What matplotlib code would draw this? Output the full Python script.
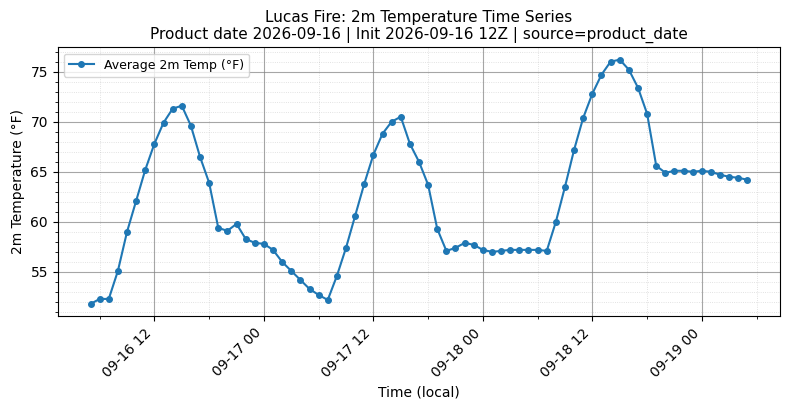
import numpy as np
import pandas as pd
import matplotlib
matplotlib.use("Agg")
import matplotlib.pyplot as plt
import matplotlib.dates as mdates
from matplotlib.ticker import MultipleLocator

# hourly data, 2026-09-16 05:00 -> 2026-09-19 05:00 (local)
start_time = "2026-09-16 05:00"
temps_f = [
    51.8, 52.3, 52.3, 55.1, 59.0, 62.1, 65.2, 67.8, 69.9, 71.3,
    71.6, 69.6, 66.5, 63.9, 59.4, 59.1, 59.8, 58.3, 57.9, 57.8,
    57.2, 56.0, 55.1, 54.2, 53.3, 52.7, 52.2, 54.6, 57.4, 60.6,
    63.8, 66.7, 68.8, 70.0, 70.5, 67.8, 66.0, 63.7, 59.3, 57.1,
    57.4, 57.9, 57.7, 57.2, 57.0, 57.1, 57.2, 57.2, 57.2, 57.2,
    57.1, 60.0, 63.5, 67.2, 70.4, 72.8, 74.7, 76.0, 76.2, 75.2,
    73.4, 70.8, 65.6, 64.9, 65.1, 65.1, 65.0, 65.1, 65.0, 64.7,
    64.5, 64.4, 64.2,
]
times = pd.date_range(start_time, periods=len(temps_f), freq="h")

fig, ax = plt.subplots(figsize=(7.89, 4.09), dpi=100)
fig.subplots_adjust(left=0.0731, right=0.989, top=0.884, bottom=0.227)

ax.plot(times, temps_f, marker="o", markersize=4, linewidth=1.5,
        color="#1f77b4", label="Average 2m Temp (°F)")

ax.set_title("Lucas Fire: 2m Temperature Time Series\n"
             "Product date 2026-09-16 | Init 2026-09-16 12Z | source=product_date",
             fontsize=11)
ax.set_xlabel("Time (local)")
ax.set_ylabel("2m Temperature (°F)")

ax.xaxis.set_major_locator(mdates.HourLocator(byhour=[0, 12]))
ax.xaxis.set_minor_locator(mdates.HourLocator(byhour=[6, 18]))
ax.xaxis.set_major_formatter(mdates.DateFormatter("%m-%d %H"))
ax.yaxis.set_minor_locator(MultipleLocator(1))
plt.setp(ax.get_xticklabels(), rotation=45, ha="right")

ax.grid(True, which="major", color="gray", alpha=0.7, linewidth=0.8)
ax.grid(True, which="minor", color="gray", alpha=0.3, linestyle=":", linewidth=0.6)

ax.legend(loc="upper left", fontsize=9)

fig.savefig("out.png", dpi=100)
